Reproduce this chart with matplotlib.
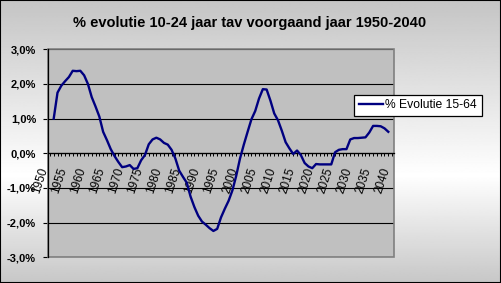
import numpy as np
import matplotlib
matplotlib.use("Agg")
import matplotlib.pyplot as plt
from matplotlib.patches import Rectangle
from matplotlib.ticker import MultipleLocator, FuncFormatter

plt.rcParams['font.family'] = ['Liberation Sans', 'DejaVu Sans']

# % change per year
years = list(range(1951, 2040))
evolutie = [
    1.00, 1.75, 1.95, 2.08, 2.20, 2.38, 2.37, 2.38, 2.25, 2.00,   # 1951-1960
    1.62, 1.35, 1.06, 0.62, 0.38, 0.12, -0.08, -0.25, -0.40, -0.38,  # 1961-1970
    -0.34, -0.45, -0.43, -0.20, -0.05, 0.26, 0.40, 0.45, 0.40, 0.30,  # 1971-1980
    0.25, 0.10, -0.15, -0.50, -0.68, -0.85, -1.25, -1.55, -1.80, -1.97,  # 1981-1990
    -2.06, -2.16, -2.24, -2.18, -1.85, -1.60, -1.37, -1.07, -0.65, -0.15,  # 1991-2000
    0.25, 0.62, 0.98, 1.22, 1.58, 1.85, 1.84, 1.52, 1.15, 0.95,   # 2001-2010
    0.65, 0.32, 0.14, -0.02, 0.08, -0.05, -0.28, -0.38, -0.43, -0.31,  # 2011-2020
    -0.32, -0.32, -0.32, -0.32, 0.03, 0.10, 0.12, 0.12, 0.40, 0.44,  # 2021-2030
    0.44, 0.45, 0.46, 0.60, 0.79, 0.79, 0.78, 0.72, 0.62,          # 2031-2039
]
label_years = list(range(1950, 2041, 5))
y_ticks = [-3, -2, -1, 0, 1, 2, 3]

W, H = 501, 283
fig = plt.figure(figsize=(W / 100, H / 100), dpi=100)

# background gradient: grey at top and bottom, white a bit below the middle
bg = fig.add_axes([0, 0, 1, 1], zorder=-5)
t = np.linspace(0, 1, 300)
shade = np.where(t < 0.62, 0.77 + (1 - 0.77) * t / 0.62,
                 1 - (1 - 0.78) * (t - 0.62) / 0.38)
bg.imshow(shade[:, None], aspect='auto', cmap='gray', vmin=0, vmax=1,
          extent=[0, 1, 0, 1])
bg.set_axis_off()

ax = fig.add_axes([48 / W, 1 - 257.3 / H, 346 / W, 208 / H])
ax.set_facecolor('#c0c0c0')

# move the x axis to 0 first (this resets the ticks)
for s in ['top', 'right']:
    ax.spines[s].set_visible(False)
ax.spines['bottom'].set_position(('data', 0))
ax.spines['bottom'].set_linewidth(0.9)
ax.spines['left'].set_linewidth(0.9)

ax.plot(years, evolutie, color='#000080', lw=1.7, label='% Evolutie 15-64',
        zorder=3)

ax.set_xlim(1949.5, 2040.5)
ax.set_ylim(-3, 3)

ax.set_yticks(y_ticks)
ax.yaxis.set_major_formatter(FuncFormatter(
    lambda v, p: ('%.1f%%' % v).replace('.', ',')))
ax.yaxis.grid(True, color='black', lw=0.8)
ax.tick_params(axis='y', direction='out', length=3.6, width=0.8, pad=5,
               labelsize=8, colors='black')
for lab in ax.get_yticklabels():
    lab.set_fontweight('bold')

ax.xaxis.set_minor_locator(MultipleLocator(1))
ax.set_xticks(label_years)
ax.tick_params(axis='x', which='both', direction='out', length=2.2, width=0.7)
ax.tick_params(axis='x', which='major', pad=7)
ax.set_xticklabels([str(y) for y in label_years], rotation=72, ha='right',
                   fontsize=8.5)

ax.add_patch(Rectangle((0, 0), 1, 1, transform=ax.transAxes, fill=False,
                       edgecolor='#808080', lw=1.2, zorder=2.4, clip_on=False))

fig.text(249.7 / W, 1 - 23.5 / H,
         '% evolutie 10-24 jaar tav voorgaand jaar 1950-2040',
         ha='center', va='center', fontsize=10.5, fontweight='bold')

leg = fig.legend(loc='center left', bbox_to_anchor=(354 / W, 1 - 105.5 / H),
                 fontsize=8.7, frameon=True, fancybox=False, edgecolor='black',
                 framealpha=1, facecolor='white', borderpad=0.4,
                 handlelength=2.0, handletextpad=0.2, borderaxespad=0)
leg.get_frame().set_linewidth(0.9)

fig.add_artist(Rectangle((0, 0), 1, 1, transform=fig.transFigure, fill=False,
                         edgecolor='black', lw=1.5))

fig.savefig('out.png', dpi=100)
